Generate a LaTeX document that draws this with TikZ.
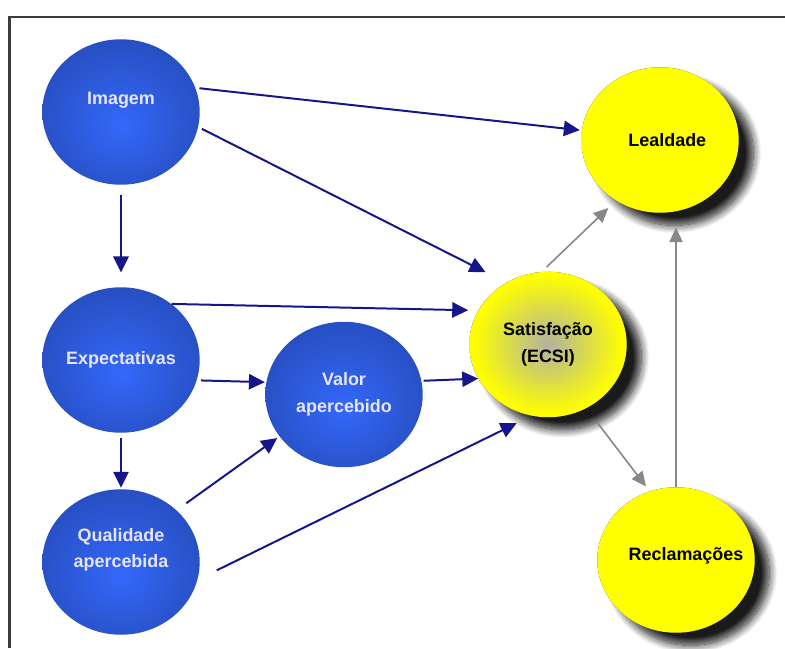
\documentclass[tikz,border=0pt]{standalone}
\usepackage{fontspec}
\setsansfont{Liberation Sans}
\usetikzlibrary{arrows.meta,shapes.geometric,shadows.blur}

\definecolor{ballin}{RGB}{52,104,250}
\definecolor{ballout}{RGB}{33,66,165}
\definecolor{yelin}{RGB}{255,255,0}
\definecolor{yelout}{RGB}{226,226,0}
\definecolor{satgray}{RGB}{178,178,160}
\definecolor{shadowgray}{RGB}{50,50,50}
\definecolor{arrblue}{RGB}{22,22,140}
\definecolor{arrgray}{RGB}{135,135,135}
\definecolor{framegray}{RGB}{60,60,60}

\pgfdeclareradialshading{blueshade}{\pgfpoint{0bp}{-5bp}}{color(0bp)=(ballin); color(42bp)=(ballout); color(50bp)=(ballout)}
\pgfdeclareradialshading{yellowshade}{\pgfpoint{0bp}{0bp}}{color(0bp)=(yelin); color(28bp)=(yelin); color(50bp)=(yelout)}
\pgfdeclareradialshading{satshade}{\pgfpoint{0bp}{0bp}}{color(0bp)=(satgray); color(24bp)=(yelin); color(50bp)=(yelout)}

\tikzset{
  ball/.style={ellipse, minimum width=118.5pt, minimum height=109.5pt, inner sep=0pt},
  blueball/.style={ball, shading=blueshade},
  yellowball/.style={ball, shading=yellowshade,
    blur shadow={shadow xshift=11pt, shadow yshift=-9.5pt, shadow blur radius=6pt, shadow blur steps=12, shadow opacity=90, fill=shadowgray}},
  txt/.style={font=\sffamily\bfseries\fontsize{13.5}{20}\selectfont, align=center},
  bluetxt/.style={txt, text=white!90!blue},
  yeltxt/.style={txt, text=black},
  bluearr/.style={draw=arrblue, line width=1.5pt, -{Triangle[length=12pt,width=11.5pt]}},
  grayarr/.style={draw=arrgray, line width=1.2pt, -{Triangle[length=11pt,width=10pt]}}
}

\begin{document}
\begin{tikzpicture}[scale=0.26458]
                \useasboundingbox (0,0) rectangle (78.5,-64.8);
                \draw [framegray, line width=1.8pt] (0.95,-64.8) -- (0.95,-1.72) -- (78.5,-1.72);
                \node [blueball, label={[bluetxt,yshift=9pt]center:Imagem}] (img) at (12.1,-11.2) {};
                \node [blueball, bluetxt] (expc) at (12.1,-36.0) {Expectativas};
                \node [blueball, label={[bluetxt,yshift=9pt]center:Qualidade\\apercebida}] (qual) at (12.1,-56.2) {};
                \node [blueball, bluetxt] (valor) at (34.4,-39.45) {Valor\\apercebido};
                \node [yellowball, shading=satshade, yeltxt] (sat) at (54.8,-34.45) {Satisfação\\(ECSI)};
                \node [yellowball, label={[yeltxt,xshift=5.5pt]center:Lealdade}] (leal) at (66.0,-14.0) {};
                \node [yellowball, label={[yeltxt,xshift=7.5pt,yshift=3.5pt]center:Reclamações}] (recl) at (67.6,-56.0) {};
                \draw [bluearr, shorten <=3pt, shorten >=1.5pt] (img.18) -- (leal.173);
                \draw [bluearr, shorten <=3pt, shorten >=17.5pt] (img.-11) -- (sat.124);
                \draw [bluearr, shorten <=7.5pt, shorten >=11pt] (img.south) -- (expc.north);
                \draw [bluearr, shorten >=7.5pt] (expc.48) -- (sat.154);
                \draw [bluearr, shorten <=3pt, shorten >=1pt] (expc.-15) -- (valor.171);
                \draw [bluearr, shorten <=4pt, shorten >=1pt] (expc.south) -- (qual.north);
                \draw [bluearr, shorten <=9pt, shorten >=2pt] (qual.43) -- (valor.213);
                \draw [bluearr, shorten <=16pt, shorten >=12.5pt] (qual.-13) -- (sat.257);
                \draw [bluearr, shorten <=1.5pt] (valor.10) -- (sat.206);
                \draw [grayarr, shorten <=5pt, shorten >=8pt] (sat.95) -- (leal.234);
                \draw [grayarr, shorten <=14pt, shorten >=4.5pt] (sat.-59) -- (recl.111);
                \draw [grayarr, shorten >=11pt] (recl.north) -- (recl.north |- leal.south);
            \end{tikzpicture}
\end{document}
